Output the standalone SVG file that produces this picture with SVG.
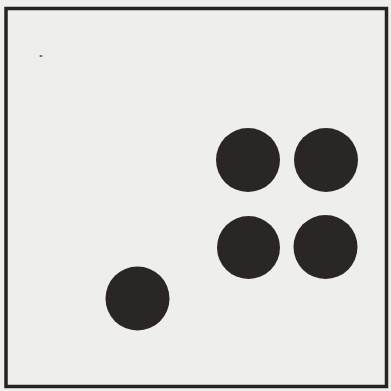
<svg xmlns="http://www.w3.org/2000/svg" width="391" height="391" viewBox="0 0 391 391">
<style>
.dot{fill:#2a2626}
</style>
<rect x="0" y="0" width="391" height="391" fill="#efefec"/>
<g id="frame"><rect x="6" y="8.5" width="380.5" height="378" fill="#eeeeeb" stroke="#252323" stroke-width="3.5"/></g>
<g id="speck"><ellipse cx="41" cy="56" rx="1.6" ry="1.1" fill="#666"/></g>
<g id="dot1"><circle class="dot" cx="248" cy="160" r="32"/></g>
<g id="dot2"><circle class="dot" cx="326" cy="160" r="32"/></g>
<g id="dot3"><circle class="dot" cx="248.5" cy="247.5" r="31.5"/></g>
<g id="dot4"><circle class="dot" cx="325.5" cy="247" r="32"/></g>
<g id="dot5"><circle class="dot" cx="137.5" cy="298.5" r="32"/></g>
<g id="connectors"/>
</svg>
